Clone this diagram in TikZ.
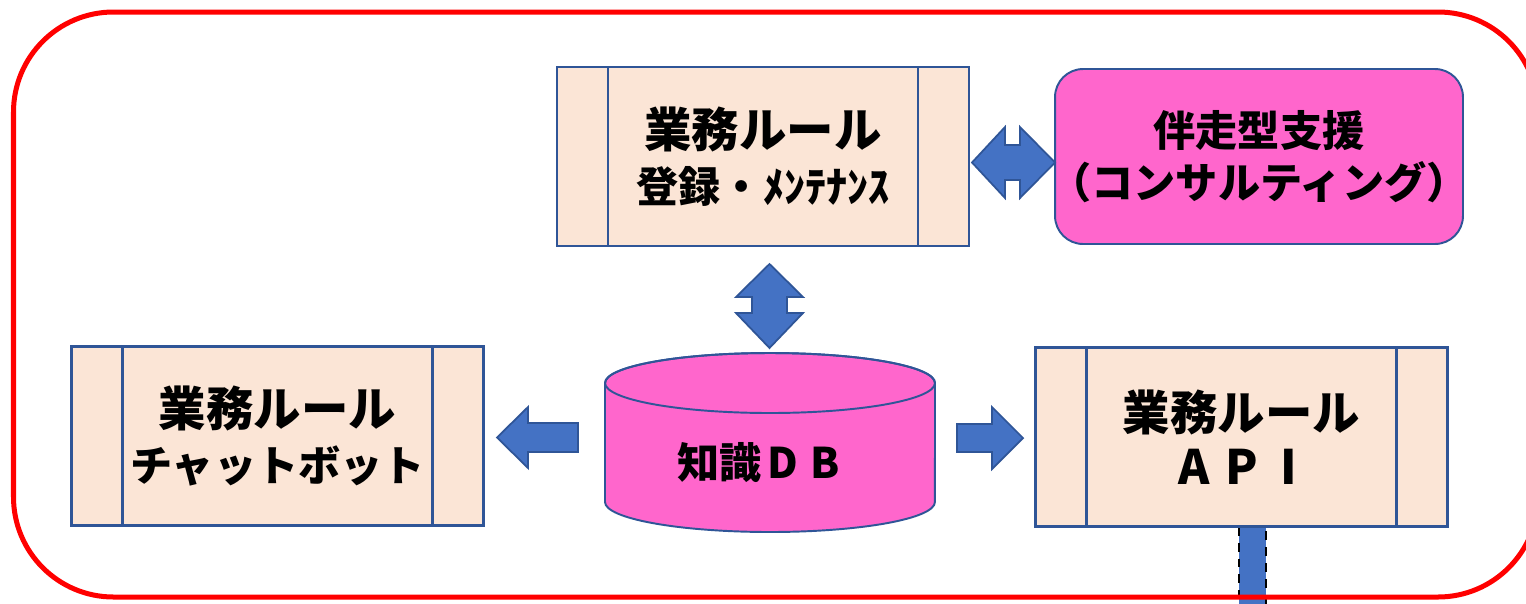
\documentclass[tikz,border=0pt]{standalone}
\usepackage{fontspec}
\newfontfamily\jpfont{Noto Sans CJK JP}
\usetikzlibrary{calc}

\definecolor{rulefill}{HTML}{FBE5D6}
\definecolor{boxline}{HTML}{2F5597}
\definecolor{pinkfill}{HTML}{FF66CC}
\definecolor{arrowfill}{HTML}{4472C4}
\definecolor{arrowline}{HTML}{2F5597}

\newcommand\wide[1]{\makebox[1em]{#1}}

\tikzset{
  rulebox/.style={draw=boxline, fill=rulefill, line width=1.4pt,
    minimum width=8.24cm, minimum height=3.58cm, align=center,
    font=\jpfont\bfseries\fontsize{27}{31}\selectfont,
    path picture={
      \draw[boxline, line width=1.4pt]
        ([xshift=1.02cm]path picture bounding box.north west) -- ([xshift=1.02cm]path picture bounding box.south west)
        ([xshift=-1.02cm]path picture bounding box.north east) -- ([xshift=-1.02cm]path picture bounding box.south east);}},
  pinkbox/.style={draw=boxline, fill=pinkfill, line width=1.1pt, rounded corners=0.56cm,
    minimum width=8.16cm, minimum height=3.5cm, align=center, inner xsep=0pt,
    font=\jpfont\bfseries\fontsize{24}{30}\selectfont},
  blockarrow/.style={fill=arrowfill, draw=arrowline, line width=1pt, line join=miter}
}

\begin{document}
\begin{tikzpicture}[x=0.02cm, y=-0.02cm]
\useasboundingbox (0,0) rectangle (1526,603);

% link going down from the API
\filldraw[fill=arrowfill, draw=black, line width=1.2pt, dash pattern=on 5pt off 4pt] (1239,527) rectangle (1266,615);

\node[rulebox] (maint) at (763,156.5) {業務ルール\\{\fontsize{24}{28}\selectfont 登録・ﾒﾝﾃﾅﾝｽ}};
\node[pinkbox] (consult) at (1259,156.5) {伴走型支援\\\hspace*{-0.5em}（コンサルティング）\hspace*{-0.5em}};
\node[rulebox] (chat) at (277.5,436) {業務ルール\\{\fontsize{24}{30}\selectfont チャットボット}};
\node[rulebox] (api) at (1241.5,437) {業務ルール\\\wide{A}\wide{P}\wide{I}};

% knowledge database
\filldraw[fill=pinkfill, draw=boxline, line width=1.1pt]
  (605,383) -- (605,502) arc (180:360:3.3cm and 0.6cm) -- (935,383) arc (0:180:3.3cm and 0.6cm) -- cycle;
\draw[boxline, line width=1.1pt] (770,383) ellipse [x radius=3.3cm, y radius=0.6cm];
\node[font=\jpfont\bfseries\fontsize{24}{28}\selectfont, inner sep=0pt] (db) at (762,463) {知識\wide{D}\wide{B}};

% block arrows
\filldraw[blockarrow] (972,162.5) -- (1005,127) -- (1005,145) -- (1020,145) -- (1020,127)
  -- (1055,162.5) -- (1020,198) -- (1020,180) -- (1005,180) -- (1005,198) -- cycle;
\filldraw[blockarrow] (769.5,264) -- (803,297) -- (787,297) -- (787,313) -- (803,313)
  -- (769.5,348) -- (736,313) -- (752,313) -- (752,297) -- (736,297) -- cycle;
\filldraw[blockarrow] (497,437.5) -- (528,407) -- (528,423) -- (578,423) -- (578,452)
  -- (528,452) -- (528,468) -- cycle;
\filldraw[blockarrow] (1023,438) -- (992,407) -- (992,424) -- (957,424) -- (957,452)
  -- (992,452) -- (992,469) -- cycle;

% frame
\draw[red, line width=2.85pt, rounded corners=2cm] (13.5,12) rectangle (1538,597);

\end{tikzpicture}
\end{document}
